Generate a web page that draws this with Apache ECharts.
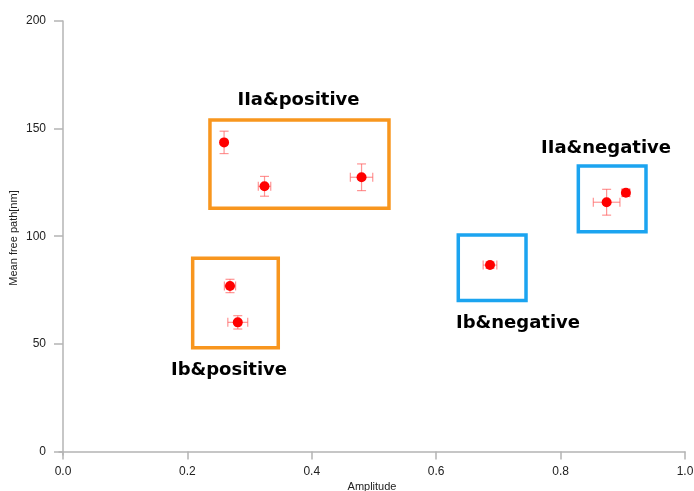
<!DOCTYPE html>
<html><head><meta charset="utf-8">
<script src="https://cdn.jsdelivr.net/npm/echarts@6/dist/echarts.min.js"></script>
<style>html,body{margin:0;padding:0;background:#fff}#c{width:694px;height:491px}</style>
</head><body><div id="c"></div>
<script>
// Data points
const amplitude = [0.259, 0.324, 0.480, 0.2685, 0.281, 0.6865, 0.874, 0.905];
const meanFreePath = [143.6, 123.2, 127.4, 76.9, 60.0, 86.6, 115.8, 120.2];
const amplitudeErr = [0.000, 0.010, 0.018, 0.009, 0.016, 0.011, 0.0214, 0.006];
const meanFreePathErr = [5.2, 4.6, 6.2, 3.1, 3.1, 1.5, 6.0, 1.6];

// Group boxes [x1, y1, x2, y2]
const boxNames = ['IIa&positive', 'Ib&positive', 'Ib&negative', 'IIa&negative'];
const boxX1 = [0.2363, 0.2085, 0.6355, 0.8285];
const boxX2 = [0.5241, 0.3461, 0.7444, 0.9373];
const boxY1 = [154.0, 89.8, 100.6, 132.6];
const boxY2 = [113.0, 48.2, 70.1, 102.1];
const boxColors = ['#f8961e', '#f8961e', '#1ba4f0', '#1ba4f0'];
// Label anchors (data coords)
const labelX = [0.3786, 0.2669, 0.7315, 0.873];
const labelY = [163.3, 37.9, 59.7, 141.0];

// Axis ranges (axis lines sit slightly outside the zero values)
const xMin = -0.0064, xMax = 1.0;
const yMin = -1.63, yMax = 200;
const xTicks = [0, 0.2, 0.4, 0.6, 0.8, 1.0];
const yTicks = [0, 50, 100, 150, 200];

const chart = echarts.init(document.getElementById('c'), null, {renderer: 'canvas'});
const axisGray = '#b4b4b4';
const errColor = 'rgba(255,90,90,0.65)';

const errData = amplitude.map((x, i) => [x, meanFreePath[i], amplitudeErr[i], meanFreePathErr[i]]);

const option = {
  backgroundColor: '#fff',
  animation: false,
  grid: {left: 59, right: 9, top: 21, bottom: 36, containLabel: false, outerBoundsMode: 'none'},
  xAxis: {
    type: 'value', min: xMin, max: xMax,
    name: 'Amplitude', nameLocation: 'middle', nameGap: 26, nameMoveOverlap: false,
    nameTextStyle: {fontFamily: 'Liberation Sans', fontSize: 11, color: '#222'},
    axisLine: {show: true, lineStyle: {color: axisGray, width: 1.5}},
    axisTick: {show: true, length: 8, customValues: xTicks, lineStyle: {color: axisGray, width: 1.5}},
    axisLabel: {fontFamily: 'Liberation Sans', fontSize: 12, color: '#222', margin: 11,
      customValues: xTicks, formatter: v => Number(v).toFixed(1)},
    splitLine: {show: false}
  },
  yAxis: {
    type: 'value', min: yMin, max: yMax,
    name: 'Mean free path[nm]', nameLocation: 'middle', nameGap: 40, nameRotate: 90, nameMoveOverlap: false,
    nameTextStyle: {fontFamily: 'Liberation Sans', fontSize: 11, color: '#222'},
    axisLine: {show: true, lineStyle: {color: axisGray, width: 1.5}},
    axisTick: {show: true, length: 9, customValues: yTicks, lineStyle: {color: axisGray, width: 1.5}},
    axisLabel: {fontFamily: 'Liberation Sans', fontSize: 12, color: '#222', margin: 13,
      customValues: yTicks, formatter: v => String(Math.round(v))},
    splitLine: {show: false}
  },
  series: [
    {
      type: 'scatter', name: 'boxes', data: [], silent: true,
      markArea: {
        silent: true,
        label: {show: false},
        data: boxNames.map((n, i) => [
          {coord: [boxX1[i], boxY1[i]], itemStyle: {color: 'rgba(0,0,0,0)', borderColor: boxColors[i], borderWidth: 3.5}},
          {coord: [boxX2[i], boxY2[i]]}
        ])
      }
    },
    {
      type: 'custom', name: 'err', data: errData, z: 3,
      renderItem: function (params, api) {
        const x = api.value(0), y = api.value(1), ex = api.value(2), ey = api.value(3);
        const c = api.coord([x, y]);
        const children = [];
        const cap = 4.5;
        const st = {stroke: errColor, lineWidth: 1.2};
        if (ey > 0) {
          const top = api.coord([x, y + ey]), bot = api.coord([x, y - ey]);
          children.push({type: 'line', shape: {x1: c[0], y1: top[1], x2: c[0], y2: bot[1]}, style: st});
          children.push({type: 'line', shape: {x1: c[0] - cap, y1: top[1], x2: c[0] + cap, y2: top[1]}, style: st});
          children.push({type: 'line', shape: {x1: c[0] - cap, y1: bot[1], x2: c[0] + cap, y2: bot[1]}, style: st});
        }
        if (ex > 0) {
          const l = api.coord([x - ex, y]), r = api.coord([x + ex, y]);
          children.push({type: 'line', shape: {x1: l[0], y1: c[1], x2: r[0], y2: c[1]}, style: st});
          children.push({type: 'line', shape: {x1: l[0], y1: c[1] - cap, x2: l[0], y2: c[1] + cap}, style: st});
          children.push({type: 'line', shape: {x1: r[0], y1: c[1] - cap, x2: r[0], y2: c[1] + cap}, style: st});
        }
        return {type: 'group', children: children};
      }
    },
    {
      type: 'scatter', name: 'points', z: 4,
      data: amplitude.map((x, i) => [x, meanFreePath[i]]),
      symbol: 'circle', symbolSize: 10,
      itemStyle: {color: '#ff0000', opacity: 1}
    },
    {
      type: 'scatter', name: 'labels', z: 5, silent: true,
      data: boxNames.map((n, i) => ({name: n, value: [labelX[i], labelY[i]]})),
      symbolSize: 0,
      itemStyle: {opacity: 1},
      label: {show: true, position: 'inside', formatter: p => p.name,
        fontFamily: 'DejaVu Sans', fontWeight: 'bold', fontSize: 18, color: '#000', opacity: 1}
    }
  ]
};
chart.setOption(option);
</script>
</body></html>
